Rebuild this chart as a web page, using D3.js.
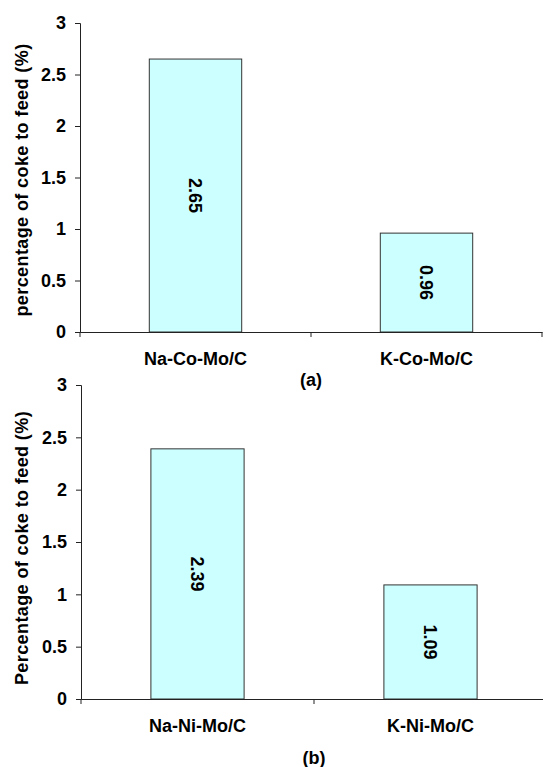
<!DOCTYPE html>
<html>
<head>
<meta charset="utf-8">
<script src="https://cdn.jsdelivr.net/npm/d3@7"></script>
<style>
  body { margin: 0; background: #fff; }
  text { font-family: "Liberation Sans", Arial, sans-serif; font-weight: bold; }
</style>
</head>
<body>
<div id="chart"></div>
<script>
const catsA = ["Na-Co-Mo/C", "K-Co-Mo/C"];
const valsA = [2.65, 0.96];
const catsB = ["Na-Ni-Mo/C", "K-Ni-Mo/C"];
const valsB = [2.39, 1.09];
const yTicks = [0, 0.5, 1, 1.5, 2, 2.5, 3];

const svg = d3.select("#chart")
  .append("svg")
  .attr("width", 543)
  .attr("height", 767);

function panel(cats, vals, yTitle, caption, box) {
  const g = svg.append("g");

  const x = d3.scaleBand().domain(cats)
    .range([box.left, box.right])
    .paddingInner(0.6).paddingOuter(0.3);
  const y = d3.scaleLinear().domain([0, 3]).range([box.bottom, box.top]);

  // bars
  g.selectAll("rect")
    .data(vals)
    .join("rect")
    .attr("x", (d, i) => x(cats[i]))
    .attr("y", d => y(d))
    .attr("width", x.bandwidth())
    .attr("height", d => y(0) - y(d))
    .attr("fill", "#ccffff")
    .attr("stroke", "#333")
    .attr("stroke-width", 1);

  // value labels, rotated
  g.selectAll(".val")
    .data(vals)
    .join("text")
    .attr("class", "val")
    .attr("transform", (d, i) =>
      `translate(${x(cats[i]) + x.bandwidth() / 2}, ${(y(d) + y(0)) / 2}) rotate(90)`)
    .attr("text-anchor", "middle")
    .attr("dy", "0.35em")
    .attr("font-size", 18)
    .text(d => d.toFixed(2));

  // y axis
  const ya = g.append("g")
    .attr("transform", `translate(${box.left},0)`)
    .call(d3.axisLeft(y).tickValues(yTicks).tickSize(5).tickPadding(9)
      .tickFormat(d3.format("~g")));
  ya.selectAll("text").attr("font-size", 18).attr("fill", "#000");
  ya.selectAll("line, path").attr("stroke", "#222");

  // x axis
  const xa = g.append("g")
    .attr("transform", `translate(0,${box.bottom})`)
    .call(d3.axisBottom(x).tickSize(0).tickPadding(20));
  xa.select(".domain").attr("stroke", "#222");
  xa.selectAll("text").attr("font-size", 18).attr("fill", "#000");
  const edges = cats.map(c => x(c) - x.step() * x.paddingOuter()).concat([box.right]);
  xa.selectAll(".edge")
    .data(edges)
    .join("line")
    .attr("class", "edge")
    .attr("x1", d => d).attr("x2", d => d)
    .attr("y1", 0).attr("y2", 5)
    .attr("stroke", "#222");

  // y title
  g.append("text")
    .attr("transform", `translate(${box.titleX}, ${box.titleY}) rotate(-90)`)
    .attr("text-anchor", "middle")
    .attr("font-size", 18)
    .attr("letter-spacing", 0.4)
    .text(yTitle);

  // caption
  g.append("text")
    .attr("x", x(cats[1]) - x.step() * x.paddingInner() / 2)
    .attr("y", box.captionY)
    .attr("text-anchor", "middle")
    .attr("font-size", 18)
    .text(caption);
}

panel(catsA, valsA, "percentage of coke to feed (%)", "(a)",
  { left: 80, right: 542, top: 23, bottom: 332, titleX: 28, titleY: 180, captionY: 386 });
panel(catsB, valsB, "Percentage of coke to feed (%)", "(b)",
  { left: 81, right: 547, top: 385, bottom: 699, titleX: 28, titleY: 548, captionY: 764 });
</script>
</body>
</html>
